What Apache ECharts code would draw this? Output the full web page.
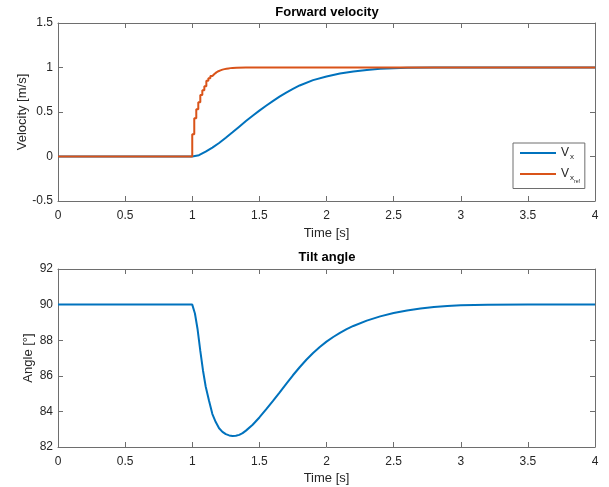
<!DOCTYPE html>
<html>
<head>
<meta charset="utf-8">
<script src="https://cdn.jsdelivr.net/npm/echarts@6/dist/echarts.min.js"></script>
<style>
  html, body { margin: 0; padding: 0; background: #fff; }
  #chart { width: 609px; height: 487px; }
</style>
</head>
<body>
<div id="chart"></div>
<script>
// Forward velocity V_x [m/s]
const velTime   = [0, 1.0, 1.05, 1.1, 1.15, 1.2, 1.25, 1.3, 1.35, 1.4, 1.45, 1.5, 1.55, 1.6, 1.65, 1.7, 1.75, 1.8, 1.9, 2.0, 2.1, 2.2, 2.3, 2.4, 2.5, 2.6, 2.8, 3.0, 3.5, 4.0];
const velValues = [0, 0, 0.015, 0.055, 0.10, 0.152, 0.21, 0.272, 0.335, 0.398, 0.458, 0.515, 0.57, 0.622, 0.672, 0.718, 0.76, 0.798, 0.858, 0.898, 0.932, 0.956, 0.973, 0.985, 0.992, 0.996, 0.999, 1.0, 1.0, 1.0];

// Sampled reference velocity V_x,ref [m/s] (zero-order hold)
const refTime   = [0, 1.0, 1.015, 1.03, 1.045, 1.06, 1.075, 1.09, 1.105, 1.12, 1.135, 1.15, 1.165, 1.18, 1.195, 1.21, 1.225, 1.24, 1.255, 1.27, 1.285, 1.3, 1.33, 1.4, 4.0];
const refValues = [0, 0.25, 0.43, 0.53, 0.61, 0.69, 0.745, 0.79, 0.85, 0.88, 0.905, 0.927, 0.945, 0.958, 0.968, 0.976, 0.982, 0.987, 0.99, 0.993, 0.995, 0.997, 0.999, 1.0, 1.0];

// Tilt angle [deg]
const angleTime   = [0, 1.0, 1.02, 1.04, 1.06, 1.08, 1.1, 1.125, 1.15, 1.175, 1.2, 1.225, 1.25, 1.275, 1.3, 1.325, 1.35, 1.375, 1.4, 1.45, 1.5, 1.55, 1.6, 1.65, 1.7, 1.75, 1.8, 1.85, 1.9, 1.95, 2.0, 2.05, 2.1, 2.15, 2.2, 2.3, 2.4, 2.5, 2.6, 2.7, 2.8, 2.9, 3.0, 3.2, 3.5, 4.0];
const angleValues = [90, 90, 89.5, 88.6, 87.4, 86.3, 85.4, 84.6, 83.85, 83.4, 83.05, 82.85, 82.72, 82.65, 82.62, 82.63, 82.68, 82.78, 82.92, 83.25, 83.66, 84.11, 84.58, 85.06, 85.55, 86.03, 86.48, 86.9, 87.28, 87.62, 87.92, 88.18, 88.41, 88.62, 88.8, 89.1, 89.34, 89.53, 89.67, 89.78, 89.86, 89.92, 89.96, 89.99, 90, 90];

// Axis ranges and tick spacing
const timeRange  = { min: 0, max: 4, interval: 0.5 };
const velRange   = { min: -0.5, max: 1.5, interval: 0.5 };
const angleRange = { min: 82, max: 92, interval: 2 };

const seriesNames = ['Vx', 'Vxref'];
const titles = ['Forward velocity', 'Tilt angle'];
const xLabel = 'Time [s]';
const yLabels = ['Velocity [m/s]', 'Angle [°]'];

const FONT = "'Liberation Sans', Arial, Helvetica, sans-serif";
const AXIS_COLOR = '#6e6e6e';
const TEXT_COLOR = '#262626';
const BLUE = '#0072BD';
const ORANGE = '#D95319';

const pairs = (xs, ys) => xs.map((x, i) => [x, ys[i]]);

function xAxisCfg(gridIndex, mirror, gap) {
  return {
    type: 'value', gridIndex, position: mirror ? 'top' : 'bottom',
    min: timeRange.min, max: timeRange.max, interval: timeRange.interval,
    axisLine: { show: true, onZero: false, lineStyle: { color: AXIS_COLOR, width: 1 } },
    axisTick: { show: true, inside: true, length: 5, lineStyle: { color: AXIS_COLOR } },
    axisLabel: { show: !mirror, color: TEXT_COLOR, fontSize: 12, fontFamily: FONT, margin: 9 },
    splitLine: { show: false },
    name: mirror ? '' : xLabel, nameLocation: 'middle', nameGap: gap || 0,
    nameTextStyle: { color: TEXT_COLOR, fontSize: 13, fontFamily: FONT }
  };
}

function yAxisCfg(gridIndex, range, mirror, label, gap) {
  return {
    type: 'value', gridIndex, position: mirror ? 'right' : 'left',
    min: range.min, max: range.max, interval: range.interval,
    axisLine: { show: true, onZero: false, lineStyle: { color: AXIS_COLOR, width: 1 } },
    axisTick: { show: true, inside: true, length: 5, lineStyle: { color: AXIS_COLOR } },
    axisLabel: { show: !mirror, color: TEXT_COLOR, fontSize: 12, fontFamily: FONT, margin: 5 },
    splitLine: { show: false },
    name: mirror ? '' : label, nameLocation: 'middle', nameGap: gap, nameMoveOverlap: false,
    nameTextStyle: { color: TEXT_COLOR, fontSize: 13, fontFamily: FONT }
  };
}

const chart = echarts.init(document.getElementById('chart'), null, { renderer: 'canvas' });

chart.setOption({
  backgroundColor: '#fff',
  animation: false,
  title: [
    { text: titles[0], left: 327, top: 6, textAlign: 'center', padding: 0,
      textStyle: { fontSize: 13, fontWeight: 'bold', color: '#000', fontFamily: FONT } },
    { text: titles[1], left: 327, top: 251, textAlign: 'center', padding: 0,
      textStyle: { fontSize: 13, fontWeight: 'bold', color: '#000', fontFamily: FONT } }
  ],
  grid: [
    { left: 58, top: 23, width: 537, height: 178 },
    { left: 58, top: 269, width: 537, height: 178 }
  ],
  xAxis: [xAxisCfg(0, false, 26), xAxisCfg(0, true), xAxisCfg(1, false, 25), xAxisCfg(1, true)],
  yAxis: [
    yAxisCfg(0, velRange, false, yLabels[0], 29),
    yAxisCfg(0, velRange, true, '', 0),
    yAxisCfg(1, angleRange, false, yLabels[1], 23),
    yAxisCfg(1, angleRange, true, '', 0)
  ],
  legend: {
    data: seriesNames,
    orient: 'vertical', left: 513, top: 143,
    icon: 'rect', itemWidth: 36, itemHeight: 2, itemGap: 7,
    backgroundColor: '#fff', borderColor: AXIS_COLOR, borderWidth: 1, borderRadius: 0,
    padding: [4, 5, 4, 7],
    formatter: name => name === 'Vx' ? '{m|V}{s|x}' : '{m|V}{s|x}{ss|ref}',
    textStyle: {
      color: TEXT_COLOR, fontFamily: FONT,
      rich: {
        m:  { fontSize: 12, fontFamily: FONT, color: TEXT_COLOR },
        s:  { fontSize: 8, fontFamily: FONT, color: TEXT_COLOR, padding: [8, 0, 0, 1] },
        ss: { fontSize: 5, fontFamily: FONT, color: TEXT_COLOR, padding: [16, 0, 0, 0] }
      }
    }
  },
  series: [
    {
      name: seriesNames[0], type: 'line', xAxisIndex: 0, yAxisIndex: 0,
      data: pairs(velTime, velValues), showSymbol: false, symbol: 'none',
      lineStyle: { color: BLUE, width: 2 }, itemStyle: { color: BLUE }
    },
    {
      name: seriesNames[1], type: 'line', xAxisIndex: 0, yAxisIndex: 0, step: 'end',
      data: pairs(refTime, refValues), showSymbol: false, symbol: 'none',
      lineStyle: { color: ORANGE, width: 2 }, itemStyle: { color: ORANGE }
    },
    {
      name: 'angle', type: 'line', xAxisIndex: 2, yAxisIndex: 2,
      data: pairs(angleTime, angleValues), showSymbol: false, symbol: 'none',
      lineStyle: { color: BLUE, width: 2 }, itemStyle: { color: BLUE }
    }
  ]
});
</script>
</body>
</html>
